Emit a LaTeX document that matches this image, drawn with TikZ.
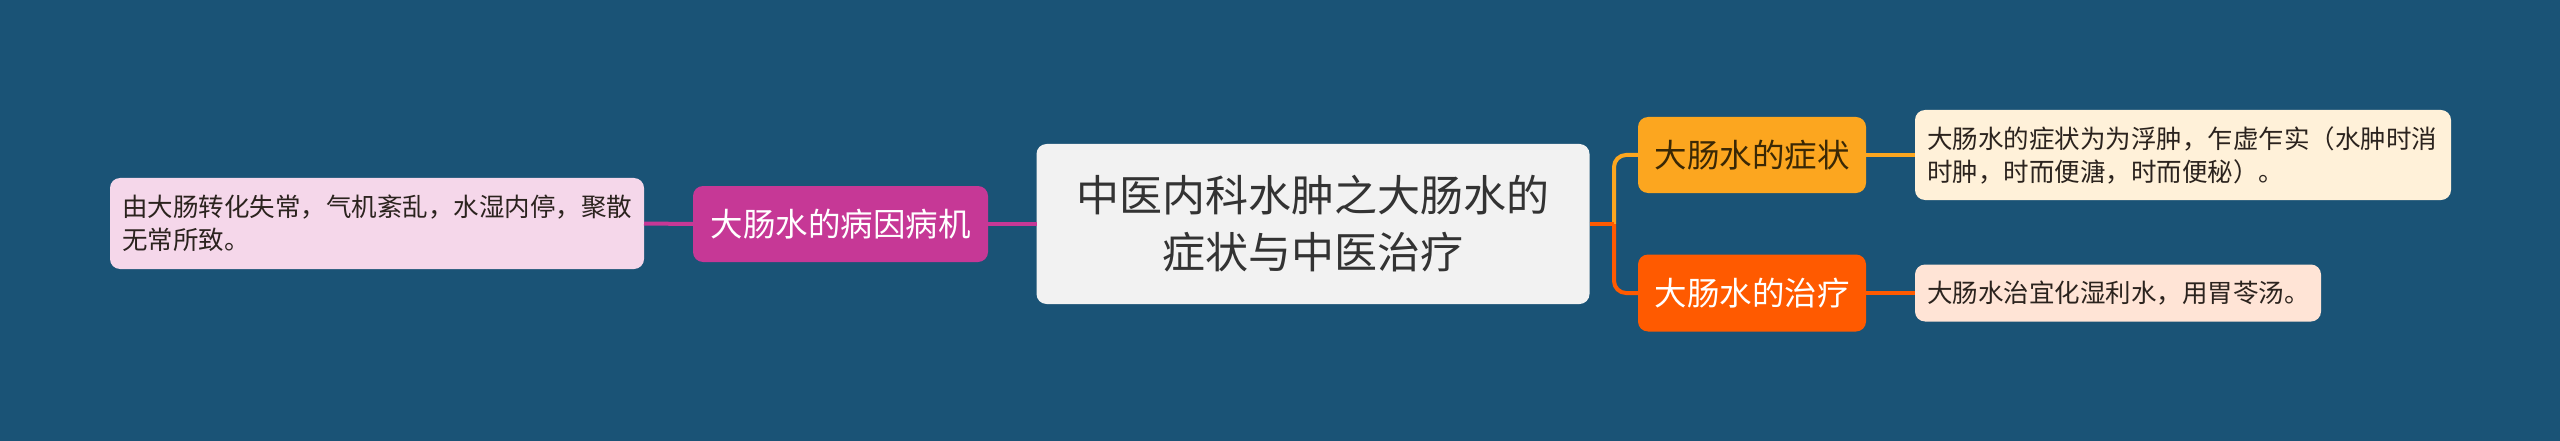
\documentclass[tikz,border=0pt]{standalone}
\usepackage{fontspec}
\setmainfont{Noto Sans CJK SC}
\XeTeXlinebreaklocale "zh"
\definecolor{bg}{RGB}{26,83,118}
\definecolor{centerfill}{RGB}{242,242,242}
\definecolor{centertext}{RGB}{51,51,51}
\definecolor{magentab}{RGB}{198,56,150}
\definecolor{pinkleaf}{RGB}{245,215,234}
\definecolor{amberb}{RGB}{252,166,31}
\definecolor{creamleaf}{RGB}{255,241,217}
\definecolor{orangeb}{RGB}{255,90,0}
\definecolor{peachleaf}{RGB}{255,228,214}
\definecolor{leaftext}{RGB}{43,35,30}
\definecolor{ambertext}{RGB}{58,40,5}
\tikzset{
  box/.style={rectangle, rounded corners=10pt, inner sep=0pt, outer sep=0pt},
  centerbox/.style={box, fill=centerfill, text=centertext, align=center,
    font=\fontsize{43}{57}\selectfont},
  branchbox/.style={box, text=white, font=\fontsize{32.5}{40}\selectfont},
  leafbox/.style={box, text=leaftext, font=\fontsize{25.5}{33}\selectfont},
  conn/.style={line width=4pt}
}
\begin{document}
\begin{tikzpicture}[x=1pt,y=-1pt]
\fill[bg] (0,0) rectangle (2560,441);
\useasboundingbox (0,0) rectangle (2560,441);

\node[centerbox, minimum width=553pt, minimum height=160pt] (c) at (1313,224)
  {中医内科水肿之大肠水的\\症状与中医治疗};

\node[branchbox, fill=magentab, minimum width=295pt, minimum height=76pt] (lb) at (840.5,224)
  {大肠水的病因病机};
\node[leafbox, fill=pinkleaf, minimum width=534pt, minimum height=91pt,
  text width=510pt, align=left] (ll) at (377,223.5)
  {由大肠转化失常，气机紊乱，水湿内停，聚散\\无常所致。};

\node[branchbox, fill=amberb, text=ambertext, minimum width=228pt, minimum height=76pt] (tb) at (1752,155)
  {大肠水的症状};
\node[branchbox, fill=orangeb, minimum width=228pt, minimum height=77pt] (bb) at (1752,293)
  {大肠水的治疗};

\node[leafbox, fill=creamleaf, minimum width=536pt, minimum height=90pt,
  text width=512pt, align=left] (tl) at (2183,155)
  {大肠水的症状为为浮肿，乍虚乍实（水肿时消\\时肿，时而便溏，时而便秘）。};
\node[leafbox, fill=peachleaf, minimum width=406pt, minimum height=57pt,
  text width=382pt, align=left] (bl) at (2118,293)
  {\mbox{大肠水治宜化湿利水，用胃苓汤。}};

\coordinate (j) at (1614,224);

\draw[conn, magentab] (ll.east) -- (lb.west);
\draw[conn, magentab] (lb.east) -- (c.west);
\draw[conn, amberb, rounded corners=12pt] (j) |- (tb.west);
\draw[conn, orangeb, rounded corners=12pt] (j) |- (bb.west);
\draw[conn, orangeb] (c.east) -- (j);
\draw[conn, amberb] (tb.east) -- (tl.west);
\draw[conn, orangeb] (bb.east) -- (bl.west);
\end{tikzpicture}
\end{document}
